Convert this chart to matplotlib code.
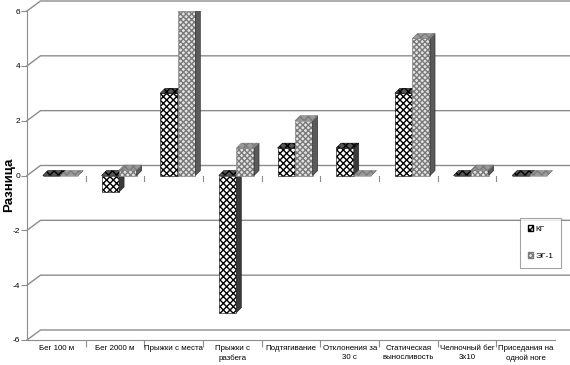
import numpy as np
import matplotlib.pyplot as plt
from matplotlib.patches import Rectangle, Polygon, Patch

categories = ['Бег 100 м', 'Бег 2000 м', 'Прыжки с места', 'Прыжки с\nразбега',
              'Подтягивание', 'Отклонения за\n30 с', 'Статическая\nвыносливость',
              'Челночный бег\n3x10', 'Приседания на\nодной ноге']
kg = [0, -0.6, 3, -5, 1, 1, 3, 0, 0]
eg1 = [0, 0.2, 6, 1, 2, 0, 5, 0.2, 0]
series_names = ['КГ', 'ЭГ-1']
yticks = [-6, -4, -2, 0, 2, 4, 6]

plt.rcParams['font.family'] = ['Liberation Sans', 'DejaVu Sans']

fig = plt.figure(figsize=(5.7, 3.65), dpi=100)
ax = fig.add_axes([27 / 570, 25 / 365, 528 / 570, 329 / 365])
ax.set_xlim(-0.5, 8.5)
ax.set_ylim(-6, 6)

# 3d-ish offsets (data units)
wall_dx, wall_dy = 0.23, 0.365
bar_dx, bar_dy = 0.085, 0.18
bw = 0.3

grid_c = '#8c8c8c'
for v in yticks:
    ax.plot([-0.5, -0.5 + wall_dx, 8.77], [v, v + wall_dy, v + wall_dy],
            color=grid_c, lw=1, clip_on=False, zorder=1)

styles = [
    dict(face='white', hatch='xxxxx', hc='black', side='#3a3a3a', top='#555555'),
    dict(face='#e4e4e4', hatch='xxxxxx', hc='#7a7a7a', side='#5a5a5a', top='#9a9a9a'),
]


def draw_bar(x0, v, st):
    lo, hi = min(0, v), max(0, v)
    ax.add_patch(Rectangle((x0, lo), bw, hi - lo, facecolor=st['face'],
                           edgecolor=st['hc'], hatch=st['hatch'], lw=0.4, zorder=3))
    ax.add_patch(Polygon([(x0 + bw, lo), (x0 + bw + bar_dx, lo + bar_dy),
                          (x0 + bw + bar_dx, hi + bar_dy), (x0 + bw, hi)],
                         facecolor=st['side'], edgecolor='#222222', lw=0.4, zorder=3))
    ax.add_patch(Polygon([(x0, hi), (x0 + bar_dx, hi + bar_dy),
                          (x0 + bw + bar_dx, hi + bar_dy), (x0 + bw, hi)],
                         facecolor=st['top'], edgecolor=st['hc'], hatch='xxxx',
                         lw=0.4, zorder=3))


x = np.arange(len(categories))
for i in x:
    draw_bar(i - 0.23, kg[i], styles[0])
    draw_bar(i - 0.23 + bw, eg1[i], styles[1])

# axes lines and ticks
for s in ['top', 'right']:
    ax.spines[s].set_visible(False)
ax.spines['left'].set_color(grid_c)
ax.spines['bottom'].set_color(grid_c)
ax.set_yticks(yticks)
ax.set_yticklabels([str(v) for v in yticks], fontsize=6)
ax.tick_params(axis='y', length=4, color=grid_c, pad=1)
ax.set_xticks(np.arange(0.5, 8.5, 1))
ax.set_xticklabels([])
ax.tick_params(axis='x', length=5, color=grid_c)
for i, lab in enumerate(categories):
    ax.text(i, -6.2, lab, ha='center', va='top', fontsize=5.7, linespacing=1.3)
# ticks at zero line
for b in np.arange(0.5, 8.5, 1):
    ax.plot([b, b], [0, -0.2], color=grid_c, lw=0.8, zorder=2)

fig.text(9 / 570, 1 - 185 / 365, 'Разница', rotation=90, fontsize=9.5,
         fontweight='bold', ha='center', va='center')

handles = [Patch(facecolor=styles[k]['face'], edgecolor=styles[k]['hc'],
                 hatch=styles[k]['hatch']) for k in range(2)]
leg = fig.legend(handles, series_names, loc='upper left',
                 bbox_to_anchor=(520 / 570, 1 - 218 / 365), fontsize=6,
                 frameon=True, fancybox=False, handlelength=0.7, handleheight=0.7,
                 handletextpad=0.25, labelspacing=2.3, borderpad=0.9,
                 borderaxespad=0)
leg.get_frame().set_edgecolor(grid_c)
leg.get_frame().set_linewidth(0.8)

fig.savefig('out.png', dpi=100)
